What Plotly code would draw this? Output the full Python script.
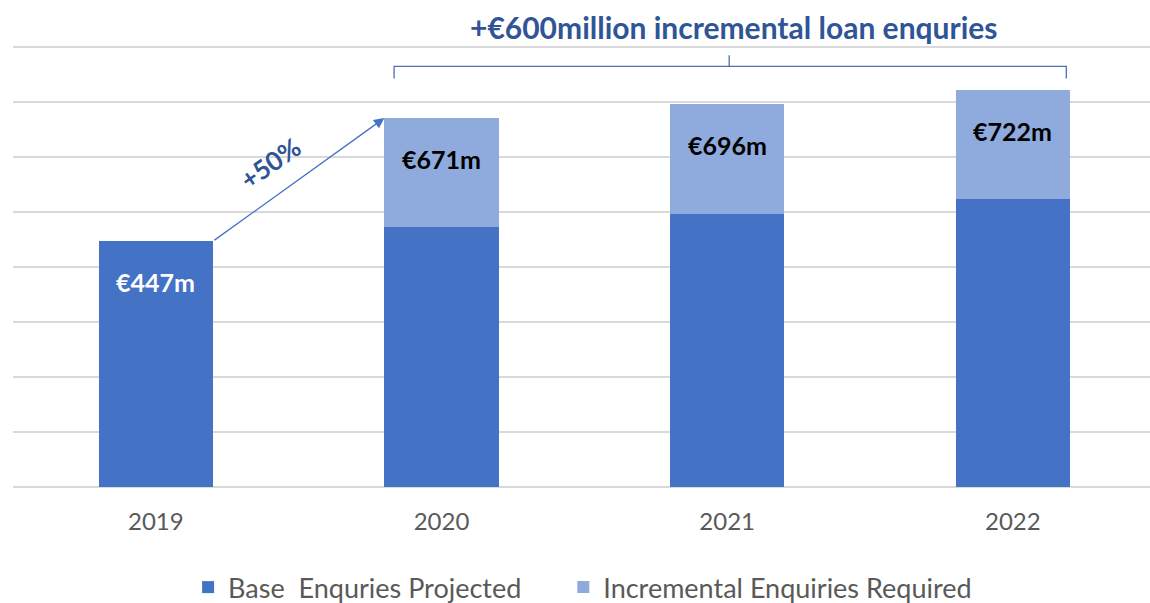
import plotly.graph_objects as go

# Loan enquiry volumes (EUR millions)
years = ["2019", "2020", "2021", "2022"]
base_enquiries = [447, 472, 496, 523]
incremental_enquiries = [0, 199, 200, 199]
total_labels = [447, 671, 696, 722]

BASE_COLOR = "#4472C4"
INCR_COLOR = "#8FAADC"
TEXT_BLUE = "#2F5597"
GREY = "#595959"
FONT = "Lato"

fig = go.Figure()
fig.add_trace(go.Bar(
    x=years, y=base_enquiries, name="Base\u00a0\u00a0Enquries Projected",
    marker=dict(color=BASE_COLOR, line=dict(width=0)), width=0.4,
    legend="legend",
))
fig.add_trace(go.Bar(
    x=years, y=incremental_enquiries, name="Incremental Enquiries Required",
    marker=dict(color=INCR_COLOR, line=dict(width=0)), width=0.4,
    legend="legend2",
))

# Value labels near the top of each stacked bar (x given as category index)
for i, tot in enumerate(total_labels):
    fig.add_annotation(
        x=i, y=tot, yshift=-41, text=f"<b>€{tot}m</b>", showarrow=False,
        font=dict(family=FONT, size=25, color="white" if i == 0 else "black"),
    )

# Growth arrow from the 2019 bar to the 2020 bar
fig.add_annotation(
    x=0.8, y=total_labels[1], ax=0.2, ay=base_enquiries[0],
    xref="x", yref="y", axref="x", ayref="y",
    showarrow=True, arrowhead=2, arrowsize=1.6, arrowwidth=1.3,
    arrowcolor=BASE_COLOR, text="",
)
fig.add_annotation(
    x=0.4, y=589, text="<b>+50%</b>", showarrow=False, textangle=-35,
    font=dict(family=FONT, size=26, color=TEXT_BLUE),
)

# Bracket spanning the projected years
bl, br, bc = 0.834, 3.187, 2.007
ytop, ybot, ytick = 765, 743, 785
fig.add_shape(
    type="path", xref="x", yref="y",
    path=(f"M {bl},{ybot} L {bl},{ytop} L {br},{ytop} L {br},{ybot} "
          f"M {bc},{ytop} L {bc},{ytick}"),
    line=dict(color="#4F6FA8", width=1.3),
)
fig.add_annotation(
    x=bc + 0.017, xref="x", y=1.043, yref="paper", yanchor="middle",
    text="<b>+€600million incremental loan enquries</b>",
    showarrow=False, font=dict(family=FONT, size=30, color=TEXT_BLUE),
)

legend_style = dict(
    orientation="h", y=-0.228, yanchor="middle", xanchor="left",
    font=dict(family=FONT, size=27, color=GREY),
    itemwidth=30, bgcolor="rgba(0,0,0,0)",
)
fig.update_layout(
    width=1150, height=603,
    margin=dict(l=13, r=0, t=46, b=116, autoexpand=False),
    barmode="stack",
    plot_bgcolor="white", paper_bgcolor="white",
    font=dict(family=FONT, color=GREY),
    showlegend=True,
    legend=dict(x=0.154, **legend_style),
    legend2=dict(x=0.484, **legend_style),
)
fig.update_xaxes(
    type="category", range=[-0.5, 3.48], showline=False, showgrid=False,
    ticks="", tickfont=dict(family=FONT, size=24, color=GREY),
    ticklabelstandoff=18,
)
fig.update_yaxes(
    range=[0, 802], tickvals=[0, 100, 200, 300, 400, 500, 600, 700, 800],
    showticklabels=False, showgrid=True,
    gridcolor="#D9D9D9", gridwidth=2, zeroline=True, zerolinecolor="#D9D9D9",
    zerolinewidth=2, showline=False,
)

fig.write_html("out.html")
